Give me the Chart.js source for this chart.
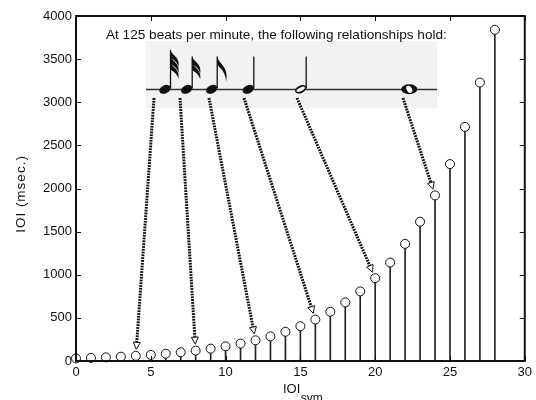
<!DOCTYPE html>
<html>
<head>
<meta charset="utf-8">
<script src="https://cdn.jsdelivr.net/npm/chart.js@4.4.1/dist/chart.umd.min.js"></script>
<style>
  html, body { margin: 0; padding: 0; background: #fff; }
  #wrap { width: 536px; height: 400px; }
</style>
</head>
<body>
<div id="wrap"><canvas id="myChart" width="536" height="400"></canvas></div>
<script>
// IOI_sym index and the IOI in msec
const xVals = [0, 1, 2, 3, 4, 5, 6, 7, 8, 9, 10, 11, 12, 13, 14, 15, 16, 17, 18, 19, 20, 21, 22, 23, 24, 25, 26, 27, 28];
const ioiVals = [30, 36, 42, 50, 60, 71, 85, 101, 120, 143, 170, 202, 240, 285, 339, 404, 480, 571, 679, 807, 960, 1142, 1358, 1615, 1920, 2283, 2715, 3229, 3840];
const xTicks = [0, 5, 10, 15, 20, 25, 30];
const yTicks = [0, 500, 1000, 1500, 2000, 2500, 3000, 3500, 4000];

// notes in the inset and the IOI_sym each one points at
const noteKinds = ['32nd', '16th', '8th', 'quarter', 'half', 'whole'];
const noteTargets = [4, 8, 12, 16, 20, 24];
const insetText = 'At 125 beats per minute, the following relationships hold:';

const points = xVals.map((x, i) => ({ x: x, y: ioiVals[i] }));
const FONT = "'Liberation Sans', Arial, sans-serif";

function drawFlag(ctx, sx, y0, len) {
    ctx.beginPath();
    ctx.moveTo(sx, y0);
    ctx.bezierCurveTo(sx + 1, y0 + 5, sx + 10, y0 + 7, sx + 8, y0 + len);
    ctx.bezierCurveTo(sx + 7, y0 + 11, sx + 1, y0 + 9, sx, y0 + 7.5);
    ctx.closePath();
    ctx.fill();
}

function drawNote(ctx, kind, hx, hy) {
    ctx.save();
    ctx.fillStyle = '#111';
    ctx.strokeStyle = '#111';
    if (kind === 'whole') {
        ctx.beginPath();
        ctx.ellipse(hx, hy, 8, 5, 0, 0, Math.PI * 2);
        ctx.fill();
        ctx.fillStyle = '#fff';
        ctx.beginPath();
        ctx.ellipse(hx, hy, 3.8, 2.6, 1.0, 0, Math.PI * 2);
        ctx.fill();
        ctx.restore();
        return;
    }
    if (kind === 'half') {
        ctx.beginPath();
        ctx.ellipse(hx, hy, 6, 3.8, -0.45, 0, Math.PI * 2);
        ctx.fill();
        ctx.fillStyle = '#f2f2f2';
        ctx.beginPath();
        ctx.ellipse(hx, hy, 4.6, 1.8, -0.45, 0, Math.PI * 2);
        ctx.fill();
    } else {
        ctx.beginPath();
        ctx.ellipse(hx, hy, 6, 4, -0.45, 0, Math.PI * 2);
        ctx.fill();
    }
    const sx = hx + 5.5;
    const top = kind === '32nd' ? 50 : 56.5;
    ctx.lineWidth = 1.3;
    ctx.beginPath();
    ctx.moveTo(sx, hy - 1);
    ctx.lineTo(sx, top);
    ctx.stroke();
    ctx.fillStyle = '#111';
    if (kind === '32nd') {
        drawFlag(ctx, sx, top, 17);
        drawFlag(ctx, sx, top + 6, 17);
        drawFlag(ctx, sx, top + 12, 17);
    } else if (kind === '16th') {
        drawFlag(ctx, sx, top, 17);
        drawFlag(ctx, sx, top + 6, 17);
    } else if (kind === '8th') {
        ctx.beginPath();
        ctx.moveTo(sx, top);
        ctx.bezierCurveTo(sx + 1, top + 7, sx + 12, top + 10, sx + 9, top + 25);
        ctx.bezierCurveTo(sx + 8, top + 13, sx + 1, top + 11, sx, top + 7.5);
        ctx.closePath();
        ctx.fill();
    }
    ctx.restore();
}

const decor = {
    id: 'decor',
    beforeDatasetsDraw(chart) {
        const ctx = chart.ctx;
        // inset box with the staff line
        ctx.save();
        ctx.fillStyle = '#f2f2f2';
        ctx.fillRect(146, 41, 291, 67);
        ctx.strokeStyle = '#333';
        ctx.lineWidth = 1.3;
        ctx.beginPath();
        ctx.moveTo(146, 89.5);
        ctx.lineTo(437, 89.5);
        ctx.stroke();
        ctx.restore();
    },
    afterDraw(chart) {
        const ctx = chart.ctx;
        const a = chart.chartArea;
        const xs = chart.scales.x;
        const ys = chart.scales.y;

        // frame and inner ticks
        ctx.save();
        ctx.strokeStyle = '#111';
        ctx.lineWidth = 1;
        ctx.beginPath();
        yTicks.forEach(v => {
            const py = Math.round(ys.getPixelForValue(v)) + 0.5;
            ctx.moveTo(a.left, py); ctx.lineTo(a.left + 5, py);
            ctx.moveTo(a.right, py); ctx.lineTo(a.right - 5, py);
        });
        xTicks.forEach(v => {
            const px = Math.round(xs.getPixelForValue(v)) + 0.5;
            ctx.moveTo(px, a.bottom); ctx.lineTo(px, a.bottom - 5);
            ctx.moveTo(px, a.top); ctx.lineTo(px, a.top + 5);
        });
        ctx.stroke();
        ctx.lineWidth = 2;
        ctx.strokeRect(a.left, a.top, a.right - a.left, a.bottom - a.top);
        ctx.restore();

        // inset caption
        ctx.save();
        ctx.fillStyle = '#111';
        ctx.font = '12px ' + FONT;
        const w = ctx.measureText(insetText).width;
        const size = 12 * 341 / w;
        ctx.font = size.toFixed(2) + 'px ' + FONT;
        ctx.textBaseline = 'middle';
        ctx.fillText(insetText, 106, 35);
        ctx.restore();

        // notes
        const noteX = [165, 186.7, 211.7, 248.3, 300.7, 409.3];
        const arrowStart = [154, 180, 209, 244, 297, 403];
        noteKinds.forEach((k, i) => drawNote(ctx, k, noteX[i], 89.3));

        // dotted arrows from each note to its IOI
        noteTargets.forEach((t, i) => {
            const sx = arrowStart[i], sy = 98;
            const tx = xs.getPixelForValue(xVals[t]);
            const ty = ys.getPixelForValue(ioiVals[t]);
            let dx = tx - sx, dy = ty - sy;
            const len = Math.hypot(dx, dy);
            dx /= len; dy /= len;
            const tipX = tx - dx * 6.5, tipY = ty - dy * 6.5;
            const baseX = tipX - dx * 7, baseY = tipY - dy * 7;
            ctx.save();
            ctx.strokeStyle = '#111';
            ctx.lineWidth = 3;
            ctx.setLineDash([1.8, 1]);
            ctx.beginPath();
            ctx.moveTo(sx, sy);
            ctx.lineTo(baseX, baseY);
            ctx.stroke();
            ctx.setLineDash([]);
            ctx.lineWidth = 1;
            ctx.fillStyle = '#fff';
            ctx.beginPath();
            ctx.moveTo(tipX, tipY);
            ctx.lineTo(baseX - dy * 3.5, baseY + dx * 3.5);
            ctx.lineTo(baseX + dy * 3.5, baseY - dx * 3.5);
            ctx.closePath();
            ctx.fill();
            ctx.stroke();
            ctx.restore();
        });

        // axis titles
        ctx.save();
        ctx.fillStyle = '#111';
        ctx.font = '13px ' + FONT;
        ctx.textBaseline = 'alphabetic';
        ctx.fillText('IOI', 283, 393);
        const iw = ctx.measureText('IOI').width;
        ctx.font = '12px ' + FONT;
        ctx.fillText('sym', 283 + iw + 0.5, 402);
        ctx.translate(21, 194);
        ctx.rotate(-Math.PI / 2);
        ctx.font = '13.5px ' + FONT;
        ctx.letterSpacing = '1px';
        ctx.textAlign = 'center';
        ctx.textBaseline = 'middle';
        ctx.fillText('IOI (msec.)', 0, 0);
        ctx.restore();
    }
};

const ctx = document.getElementById('myChart');
const myChart = new Chart(ctx, {
    type: 'scatter',
    data: {
        datasets: [
            {
                type: 'bar',
                data: points,
                backgroundColor: '#222',
                barThickness: 1,
                order: 2
            },
            {
                type: 'scatter',
                data: points,
                pointRadius: 4.5,
                pointBorderWidth: 1,
                borderColor: '#111',
                backgroundColor: '#fff',
                clip: false,
                order: 1
            }
        ]
    },
    options: {
        responsive: false,
        animation: false,
        events: [],
        layout: { padding: { top: 16, right: 8, left: 0, bottom: 0 } },
        plugins: {
            legend: { display: false },
            tooltip: { enabled: false }
        },
        scales: {
            x: {
                type: 'linear',
                min: 0,
                max: 30,
                offset: false,
                afterFit: (s) => { s.height = 39; },
                afterBuildTicks: (s) => { s.ticks = xTicks.map(v => ({ value: v })); },
                grid: { display: false, drawTicks: false },
                border: { display: false },
                ticks: { padding: 4, color: '#111', maxRotation: 0, font: { size: 13, family: FONT }, callback: (v) => String(v) }
            },
            y: {
                type: 'linear',
                min: 0,
                max: 4000,
                afterFit: (s) => { s.width = 76; },
                afterBuildTicks: (s) => { s.ticks = yTicks.map(v => ({ value: v })); },
                grid: { display: false, drawTicks: false },
                border: { display: false },
                ticks: { padding: 4, color: '#111', font: { size: 13, family: FONT }, callback: (v) => String(v) }
            }
        }
    },
    plugins: [decor]
});
</script>
</body>
</html>
